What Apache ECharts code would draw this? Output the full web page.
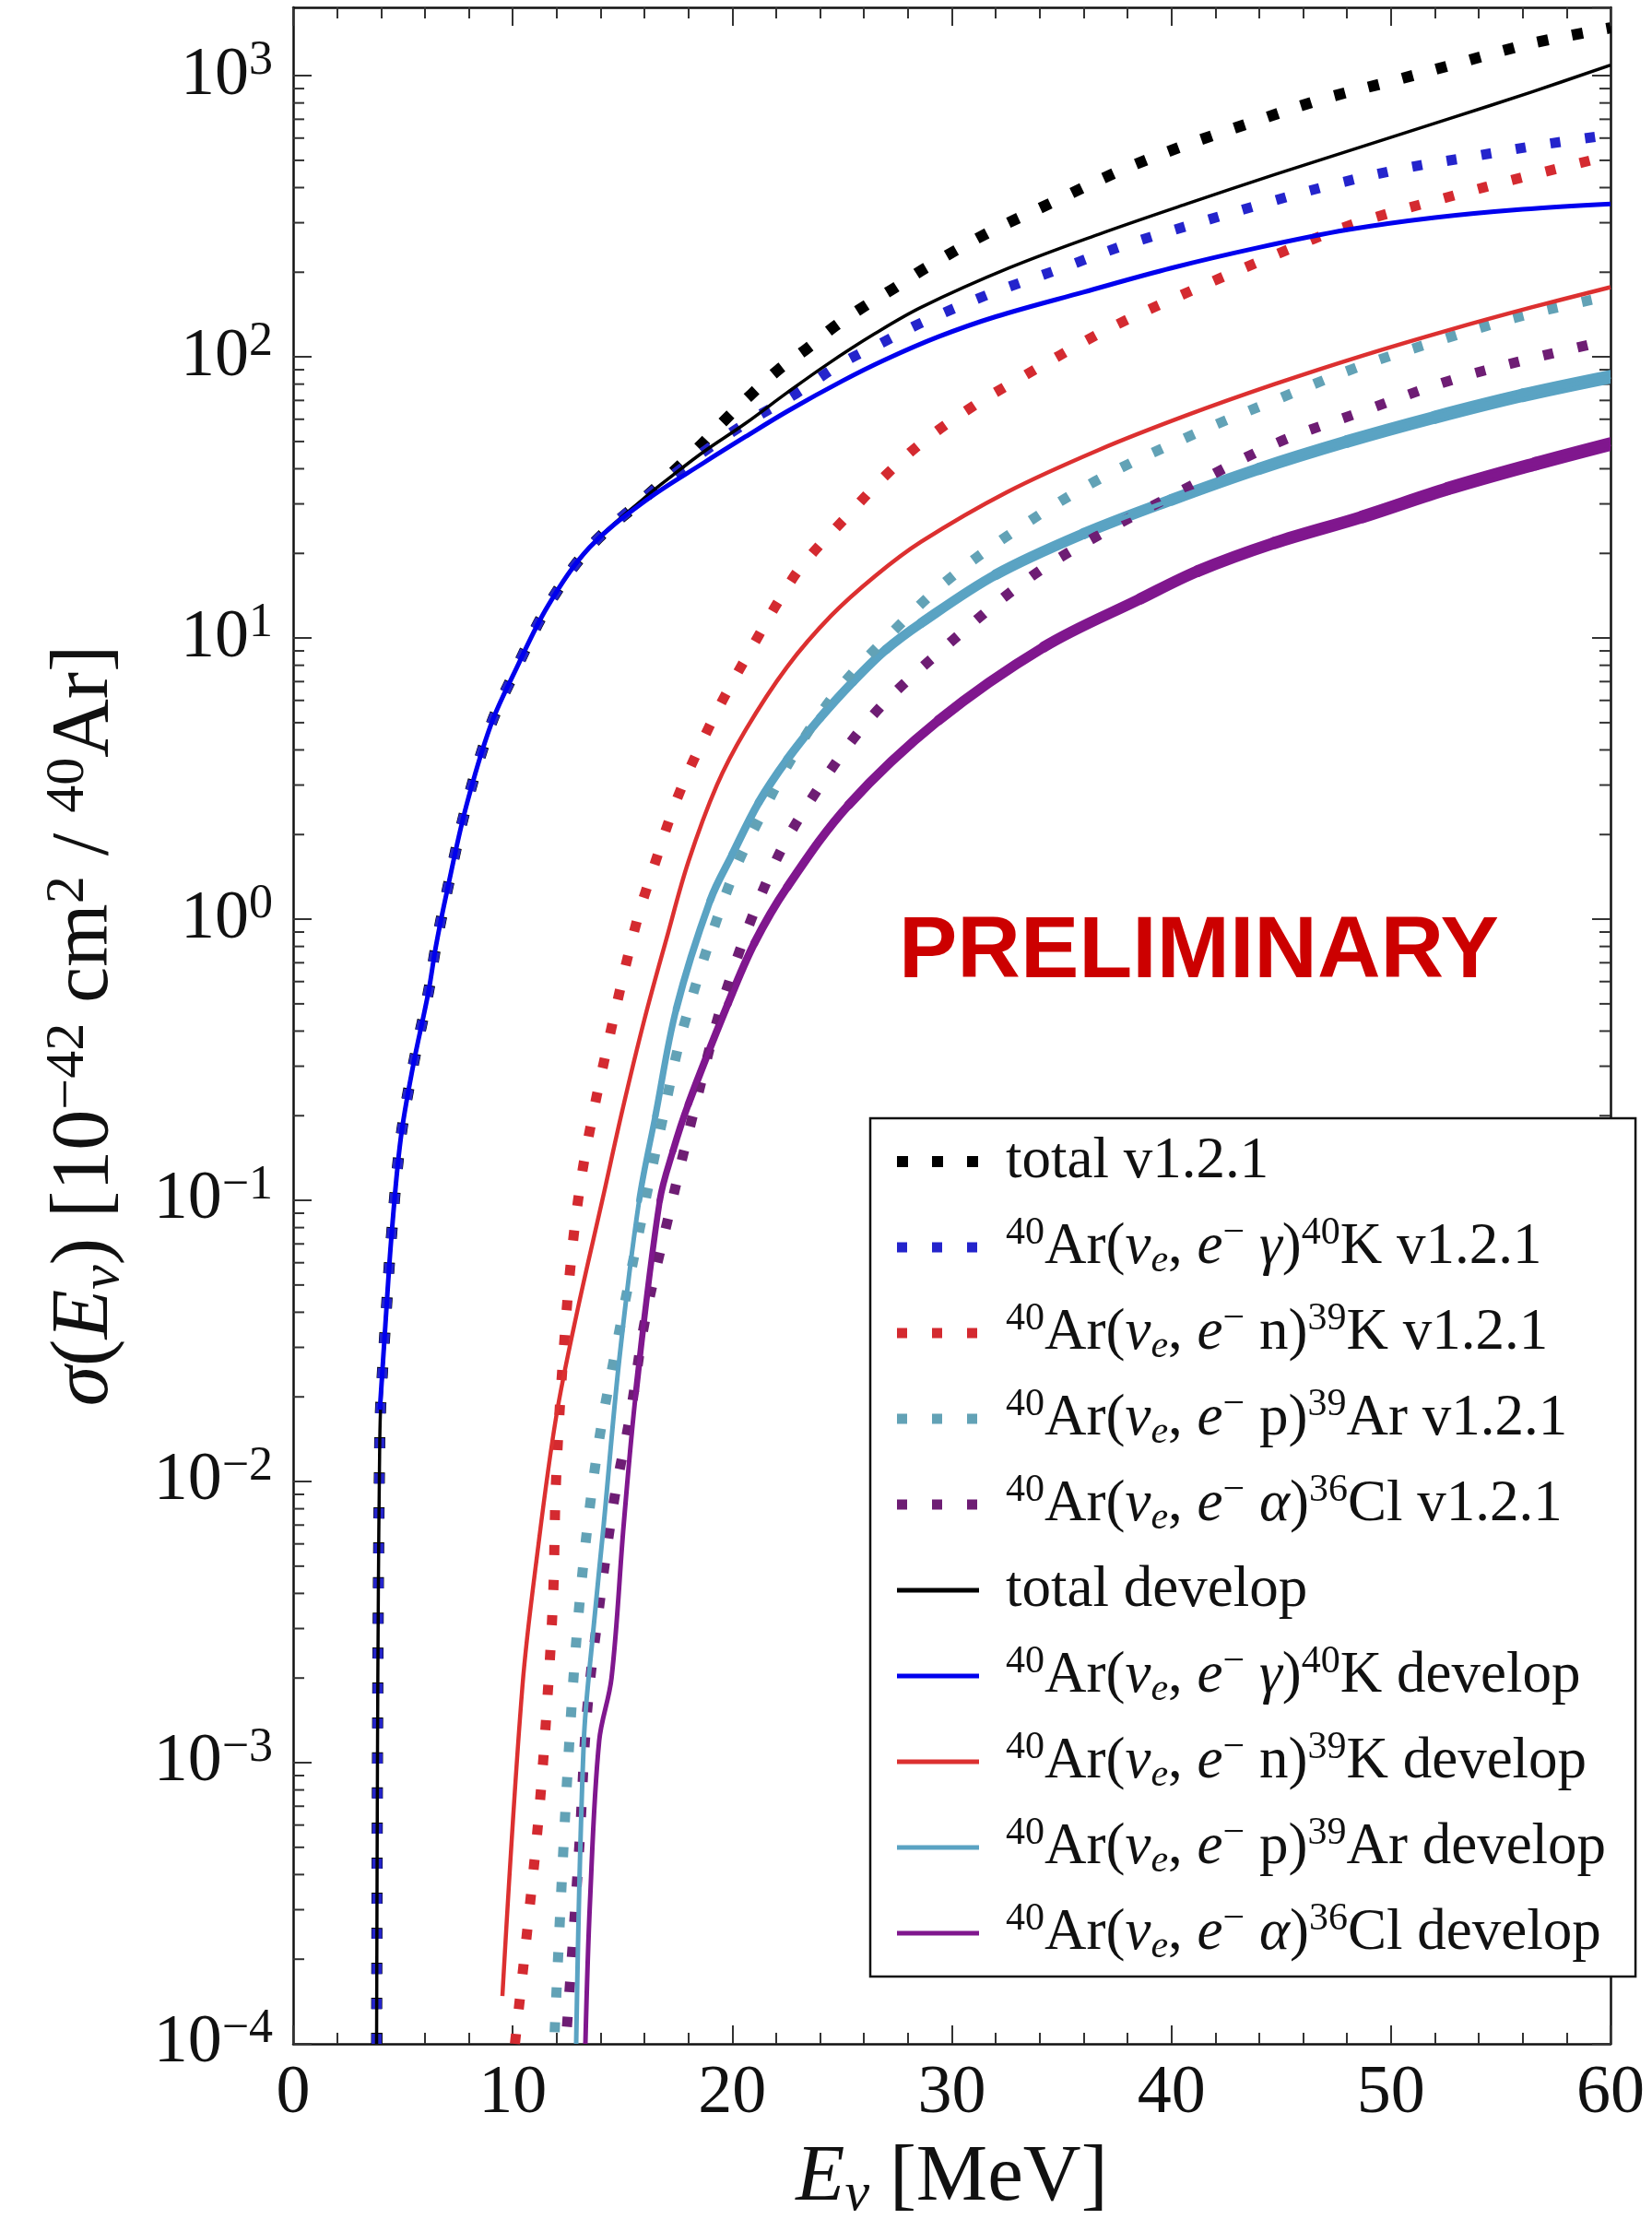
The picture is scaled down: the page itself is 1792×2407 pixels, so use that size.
<!DOCTYPE html>
<html>
<head>
<meta charset="utf-8">
<script src="https://cdn.jsdelivr.net/npm/echarts/dist/echarts.min.js"></script>
<style>
  html, body { margin: 0; padding: 0; background: #fff; }
  #chart { width: 1792px; height: 2407px; }
</style>
</head>
<body>
<div id="chart"></div>
<script>
// Cross sections sigma(E_nu) in units of 1e-42 cm^2 per 40Ar, pairs of [E_nu (MeV), sigma]

const totalV121 = [
  [3.80,1e-4],[3.84,1e-3],[3.88,4e-3],[3.93,0.011],[3.98,0.018],[4.2,0.036],[4.48,0.075],
  [4.9,0.166],[5.46,0.30],[6.16,0.55],[6.5,0.8],[7.0,1.25],[7.87,2.5],[9.0,4.9],[10.1,7.6],
  [11.6,13],[13.5,21],[16.1,32],[17.3,39],[18.5,48],[19.7,60],[20.9,74],[22.1,90],[23.4,107],
  [24.7,129],[26.0,151],[27.4,176],[28.8,207],[31.6,275],[34.6,355],[37.6,457],[40.6,565],
  [43.7,684],[46.8,822],[50,955],[53.1,1110],[56.3,1297],[60,1480]
];
const gammaV121 = [
  [3.80,1e-4],[3.84,1e-3],[3.88,4e-3],[3.93,0.011],[3.98,0.018],[4.2,0.036],[4.48,0.075],
  [4.9,0.166],[5.46,0.30],[6.16,0.55],[6.5,0.8],[7.0,1.25],[7.87,2.5],[9.0,4.9],[10.1,7.6],
  [11.6,13],[13.5,21],[16.1,32],[17.3,38],[18.7,46],[20.6,58],[22.9,74],[25.0,95],[26.8,112],
  [28.6,132],[31.6,166],[34.8,204],[37.9,250],[40.9,295],[44.1,349],[47.2,407],[50.4,465],
  [53.6,514],[56.8,567],[60,617]
];
const neutronV121 = [
  [10.1,1e-4],[10.72,2.8e-4],[11.21,6.8e-4],[11.56,1.6e-3],[11.84,3.9e-3],[11.95,9e-3],
  [12.12,0.017],[12.33,0.03],[12.6,0.055],[12.96,0.098],[13.4,0.16],[14.3,0.35],[15.6,0.95],
  [16.5,1.6],[17.5,2.7],[18.7,4.4],[19.7,6.3],[21.2,10.2],[22.1,13.5],[23.2,18.2],[25.3,27.5],
  [27,38],[28.7,50],[31,67],[33,83],[36.8,122],[40,160],[44.7,230],[48.2,295],[52.6,370],
  [56,435],[60,520]
];
const protonV121 = [
  [11.91,1.1e-4],[12.47,8.5e-4],[13.03,3.6e-3],[13.8,0.012],[14.64,0.028],[15.9,0.088],
  [16.8,0.19],[17.8,0.42],[19.9,1.35],[21.5,2.5],[23.1,4.2],[25,6.8],[27.4,10.7],[29.7,15.8],
  [32.5,23],[36.5,36],[41,53],[44.7,70],[48.5,92],[52.6,117],[56,140],[60,165]
];
const alphaV121 = [
  [12.47,1.15e-4],[13.03,5e-4],[13.38,1.5e-3],[13.94,3.6e-3],[14.64,8.8e-3],[15.34,0.017],
  [16.04,0.038],[17.16,0.092],[18.2,0.2],[19.7,0.55],[21.8,1.5],[23.5,2.6],[26.3,5.2],
  [29.7,9.3],[33.6,16.5],[36.8,23.5],[40,32],[44.7,49],[48.7,64],[52.6,82],[56,97],[60,115]
];

const totalDevelop = [
  [3.80,1e-4],[3.84,1e-3],[3.88,4e-3],[3.93,0.011],[3.98,0.018],[4.2,0.036],[4.48,0.075],
  [4.9,0.166],[5.46,0.30],[6.16,0.55],[6.5,0.8],[7.0,1.25],[7.87,2.5],[9.0,4.9],[10.1,7.6],
  [11.6,13],[13.5,21],[16.1,32],[17.3,38],[18.7,46],[20.6,58],[22.5,74.6],[24.3,93.8],
  [26.5,121],[28.6,150],[32.6,207],[36.7,273],[40.7,350],[44.7,445],[48.7,560],[52.7,705],
  [56.4,875],[60,1090]
];
const gammaDevelop = [
  [3.95,0.018],[4.2,0.036],[4.48,0.075],[4.9,0.166],[5.46,0.30],[6.16,0.55],[6.5,0.8],
  [7.0,1.25],[7.87,2.5],[9.0,4.9],[10.1,7.6],[11.6,13],[13.5,21],[16.1,31],[18.7,42],
  [20.6,52],[22.5,64],[25,82],[27,98],[29.4,118],[32,139],[36,170],[40,207],[44,245],
  [48,283],[52,313],[56,335],[60,350]
];
const neutronDevelop = [
  [9.53,1.48e-4],[10.44,1.86e-3],[11.14,5.7e-3],[11.98,0.017],[12.96,0.041],[14.08,0.1],
  [15.0,0.21],[16.0,0.44],[17.0,0.85],[18.0,1.6],[19.3,3.0],[20.6,4.7],[22.5,7.9],[24.5,12.0],
  [26.5,16.6],[28.6,22],[32.5,33],[36.7,46.7],[40.7,62],[44.7,80],[48.7,101],[52.7,125],
  [56.4,150],[60,177]
];
const protonDevelop = [
  [12.89,1e-4],[13.24,1.2e-3],[13.66,2.9e-3],[14.15,7.1e-3],[14.85,0.027],[15.76,0.1],
  [16.5,0.2],[17.45,0.48],[19.0,1.17],[20,1.7],[21.2,2.6],[22.5,3.7],[24,5.2],[25.5,7.0],
  [27,9.1],[28.6,11.3],[32,16.8],[36,23.5],[40,31],[44,40],[48,50],[52,61],[56,73],[60,85]
];
const alphaDevelop = [
  [13.31,1e-4],[13.52,3.2e-4],[13.94,1.2e-3],[14.5,2.0e-3],[15.06,7.1e-3],[15.62,0.021],
  [16.7,0.1],[17.3,0.15],[18.0,0.22],[19.8,0.5],[21,0.82],[22.5,1.3],[25.3,2.55],[29.4,5.1],
  [34.2,9.3],[38.6,13.8],[41.2,17.3],[44.7,21.8],[48.7,27],[52.6,34],[56.6,41.7],[60,49]
];

// axis ranges
const xRange = [0, 60];
const xTickStep = 10;
const yRange = [1e-4, 1750];

const FONT = 'Liberation Serif';
const SMOOTH = 0.35;

// legend entries: series name -> rich label text
const legendLabels = {
  'total v1.2.1': '{sp| }{r|total v1.2.1}',
  '40Ar(νe,e− γ)40K v1.2.1': '{sp| }{sup|40}{r|Ar(}{it|ν}{sub|e}{r|, }{it|e}{sup|−}{r| }{it|γ}{r|)}{sup|40}{r|K v1.2.1}',
  '40Ar(νe,e− n)39K v1.2.1': '{sp| }{sup|40}{r|Ar(}{it|ν}{sub|e}{r|, }{it|e}{sup|−}{r| n)}{sup|39}{r|K v1.2.1}',
  '40Ar(νe,e− p)39Ar v1.2.1': '{sp| }{sup|40}{r|Ar(}{it|ν}{sub|e}{r|, }{it|e}{sup|−}{r| p)}{sup|39}{r|Ar v1.2.1}',
  '40Ar(νe,e− α)36Cl v1.2.1': '{sp| }{sup|40}{r|Ar(}{it|ν}{sub|e}{r|, }{it|e}{sup|−}{r| }{it|α}{r|)}{sup|36}{r|Cl v1.2.1}',
  'total develop': '{sp| }{r|total develop}',
  '40Ar(νe,e− γ)40K develop': '{sp| }{sup|40}{r|Ar(}{it|ν}{sub|e}{r|, }{it|e}{sup|−}{r| }{it|γ}{r|)}{sup|40}{r|K develop}',
  '40Ar(νe,e− n)39K develop': '{sp| }{sup|40}{r|Ar(}{it|ν}{sub|e}{r|, }{it|e}{sup|−}{r| n)}{sup|39}{r|K develop}',
  '40Ar(νe,e− p)39Ar develop': '{sp| }{sup|40}{r|Ar(}{it|ν}{sub|e}{r|, }{it|e}{sup|−}{r| p)}{sup|39}{r|Ar develop}',
  '40Ar(νe,e− α)36Cl develop': '{sp| }{sup|40}{r|Ar(}{it|ν}{sub|e}{r|, }{it|e}{sup|−}{r| }{it|α}{r|)}{sup|36}{r|Cl develop}'
};

const DOT = [11, 27];

const curveDefs = [
  { name: 'total v1.2.1', data: totalV121, color: '#000000', width: 12, dash: [12, 26] },
  { name: '40Ar(νe,e− γ)40K v1.2.1', data: gammaV121, color: '#2424cc', width: 11, dash: DOT },
  { name: '40Ar(νe,e− n)39K v1.2.1', data: neutronV121, color: '#d42a30', width: 11, dash: DOT },
  { name: '40Ar(νe,e− p)39Ar v1.2.1', data: protonV121, color: '#62a2b6', width: 11, dash: DOT },
  { name: '40Ar(νe,e− α)36Cl v1.2.1', data: alphaV121, color: '#6e1d74', width: 11, dash: DOT },
  { name: 'total develop', data: totalDevelop, color: '#000000', width: 3.5, dash: 'solid' },
  { name: '40Ar(νe,e− γ)40K develop', data: gammaDevelop, color: '#0000ee', width: 5, dash: 'solid' },
  { name: '40Ar(νe,e− n)39K develop', data: neutronDevelop, color: '#dc3030', width: 4.5, dash: 'solid' },
  { name: '40Ar(νe,e− p)39Ar develop', data: protonDevelop, color: '#5aa3c3', width: 5, dash: 'solid', grows: true },
  { name: '40Ar(νe,e− α)36Cl develop', data: alphaDevelop, color: '#80178e', width: 5, dash: 'solid', grows: true }
];

// the noisy high-energy parts of the p and alpha curves render as a widening band
function bandWidth(e) {
  const t = Math.max(0, Math.min(1, (e - 15) / 45));
  return 5 + 10 * Math.sqrt(t);
}

// control points of a smoothed segment, same construction as the line series smoothing
function smoothCtrl(prev, p, next) {
  const vx = (next[0] - prev[0]) * SMOOTH, vy = (next[1] - prev[1]) * SMOOTH;
  const d0 = Math.hypot(p[0] - prev[0], p[1] - prev[1]);
  const d1 = Math.hypot(next[0] - p[0], next[1] - p[1]);
  const s = d0 + d1 || 1;
  return {
    before: [p[0] - vx * d0 / s, p[1] - vy * d0 / s],
    after: [p[0] + vx * d1 / s, p[1] + vy * d1 / s]
  };
}

const series = [];
curveDefs.forEach(function (c) {
  series.push({
    type: 'line',
    name: c.name,
    data: c.data,
    showSymbol: false,
    symbol: 'none',
    smooth: SMOOTH,
    clip: true,
    z: 2,
    lineStyle: { color: c.color, width: c.width, type: c.dash, cap: 'butt', join: 'round' },
    itemStyle: { color: c.color },
    emphasis: { disabled: true }
  });
  if (c.grows) {
    const pts = c.data;
    series.push({
      type: 'custom',
      name: c.name + ' band',
      silent: true,
      clip: true,
      z: 2,
      data: pts,
      encode: { x: 0, y: 1 },
      renderItem: function (params, api) {
        const i = params.dataIndex;
        if (i >= pts.length - 1) return null;
        const mid = (pts[i][0] + pts[i + 1][0]) / 2;
        if (mid < 15.5) return null;
        const p0 = api.coord(pts[Math.max(0, i - 1)]);
        const p1 = api.coord(pts[i]);
        const p2 = api.coord(pts[i + 1]);
        const p3 = api.coord(pts[Math.min(pts.length - 1, i + 2)]);
        const c1 = i === 0 ? p1 : smoothCtrl(p0, p1, p2).after;
        const c2 = i + 1 === pts.length - 1 ? p2 : smoothCtrl(p1, p2, p3).before;
        return {
          type: 'bezierCurve',
          shape: { x1: p1[0], y1: p1[1], x2: p2[0], y2: p2[1], cpx1: c1[0], cpy1: c1[1], cpx2: c2[0], cpy2: c2[1] },
          style: { stroke: c.color, fill: null, lineWidth: bandWidth(mid), lineCap: 'round' }
        };
      }
    });
  }
});

// minor log ticks (2..9 x 10^n) on the left and right frame
const minorLogTicks = [];
for (let n = -4; n <= 3; n++) {
  for (let k = 2; k <= 9; k++) {
    const v = k * Math.pow(10, n);
    if (v < yRange[1]) minorLogTicks.push([xRange[0], v]);
  }
}
series.push({
  type: 'custom',
  name: 'minor ticks',
  silent: true,
  clip: false,
  data: minorLogTicks,
  encode: { x: 0, y: 1 },
  z: 1,
  renderItem: function (params, api) {
    const v = api.value(1);
    const l = api.coord([xRange[0], v]);
    const r = api.coord([xRange[1], v]);
    return {
      type: 'group',
      children: [
        { type: 'line', shape: { x1: l[0], y1: l[1], x2: l[0] + 12, y2: l[1] }, style: { stroke: '#333', lineWidth: 2 } },
        { type: 'line', shape: { x1: r[0] - 12, y1: r[1], x2: r[0], y2: r[1] }, style: { stroke: '#333', lineWidth: 2 } }
      ]
    };
  }
});

function expLabel(v) {
  const e = Math.round(Math.log10(v));
  const s = e < 0 ? '−' + (-e) : String(e);
  return '{b|10}{e|' + s + '}';
}

const frameLine = { show: true, onZero: false, lineStyle: { color: '#111', width: 2.5 } };
const majorTick = { show: true, inside: true, length: 20, lineStyle: { color: '#333', width: 2 } };
const minorTickX = { show: true, splitNumber: 5, length: 12, lineStyle: { color: '#333', width: 2 } };

const option = {
  animation: false,
  backgroundColor: '#ffffff',
  grid: { left: 318, top: 8, width: 1429, height: 2209, containLabel: false, outerBoundsMode: 'none' },
  xAxis: [
    {
      type: 'value', position: 'bottom', min: xRange[0], max: xRange[1], interval: xTickStep,
      axisLine: frameLine, axisTick: majorTick, minorTick: minorTickX,
      splitLine: { show: false }, minorSplitLine: { show: false },
      axisLabel: { show: true, margin: 18, fontFamily: FONT, fontSize: 74, color: '#111' },
      name: '{it|E}{subi|ν}{r| [MeV]}',
      nameLocation: 'middle', nameGap: 98,
      nameTextStyle: {
        color: '#111', fontFamily: FONT, fontSize: 87,
        rich: {
          r: { fontFamily: FONT, fontSize: 87, lineHeight: 96, color: '#111' },
          it: { fontFamily: FONT, fontSize: 87, fontStyle: 'italic', lineHeight: 96, color: '#111' },
          subi: { fontFamily: FONT, fontSize: 60, fontStyle: 'italic', lineHeight: 60, verticalAlign: 'bottom', color: '#111' }
        }
      }
    },
    {
      type: 'value', position: 'top', min: xRange[0], max: xRange[1], interval: xTickStep,
      axisLine: frameLine, axisTick: majorTick, minorTick: minorTickX,
      splitLine: { show: false }, axisLabel: { show: false }
    }
  ],
  yAxis: [
    {
      type: 'log', logBase: 10, position: 'left', min: yRange[0], max: yRange[1],
      axisLine: frameLine, axisTick: majorTick, splitLine: { show: false },
      axisLabel: {
        show: true, margin: 22, showMaxLabel: false, formatter: expLabel,
        rich: {
          b: { fontFamily: FONT, fontSize: 74, lineHeight: 84, color: '#111' },
          e: { fontFamily: FONT, fontSize: 52, lineHeight: 52, verticalAlign: 'top', color: '#111' }
        }
      },
      name: '{it|σ}{r|(}{it|E}{subi|ν}{r|) [10}{sup|−42}{r| cm}{sup|2}{r| / }{sup|40}{r|Ar]}',
      nameLocation: 'middle', nameRotate: 90, nameGap: 176,
      nameTextStyle: {
        color: '#111', fontFamily: FONT, fontSize: 88,
        rich: {
          r: { fontFamily: FONT, fontSize: 88, lineHeight: 98, color: '#111' },
          it: { fontFamily: FONT, fontSize: 88, fontStyle: 'italic', lineHeight: 98, color: '#111' },
          subi: { fontFamily: FONT, fontSize: 60, fontStyle: 'italic', lineHeight: 60, verticalAlign: 'bottom', color: '#111' },
          sup: { fontFamily: FONT, fontSize: 60, lineHeight: 60, verticalAlign: 'top', color: '#111' }
        }
      }
    },
    {
      type: 'log', logBase: 10, position: 'right', min: yRange[0], max: yRange[1],
      axisLine: frameLine, axisTick: majorTick, splitLine: { show: false },
      axisLabel: { show: false }
    }
  ],
  legend: {
    show: true,
    z: 8,
    orient: 'vertical',
    left: 944, top: 1213,
    padding: [11, 32, 11, 23],
    itemWidth: 89, itemHeight: 14, itemGap: 21,
    selectedMode: false,
    backgroundColor: '#ffffff',
    borderColor: '#111', borderWidth: 2.5, borderRadius: 0,
    data: curveDefs.map(function (c) {
      return {
        name: c.name,
        itemStyle: { opacity: 0 },
        lineStyle: { color: c.color, width: c.dash === 'solid' ? 5 : c.width, type: c.dash, opacity: 1 }
      };
    }),
    formatter: function (name) { return legendLabels[name]; },
    textStyle: {
      color: '#111', fontFamily: FONT, fontSize: 63, lineHeight: 72,
      rich: {
        sp: { width: 24 },
        r: { fontFamily: FONT, fontSize: 63, lineHeight: 72, color: '#111' },
        it: { fontFamily: FONT, fontSize: 63, fontStyle: 'italic', lineHeight: 72, color: '#111' },
        sup: { fontFamily: FONT, fontSize: 42, lineHeight: 44, verticalAlign: 'top', color: '#111' },
        sub: { fontFamily: FONT, fontSize: 42, fontStyle: 'italic', lineHeight: 44, verticalAlign: 'bottom', color: '#111' }
      }
    }
  },
  graphic: [
    {
      type: 'text', x: 975, y: 1034, z: 20,
      style: {
        text: 'PRELIMINARY', fill: '#cc0000',
        fontFamily: 'Liberation Sans', fontWeight: 'bold', fontSize: 95,
        align: 'left', verticalAlign: 'middle'
      }
    }
  ],
  series: series
};

const chart = echarts.init(document.getElementById('chart'), null, { renderer: 'canvas' });
chart.setOption(option);
</script>
</body>
</html>
